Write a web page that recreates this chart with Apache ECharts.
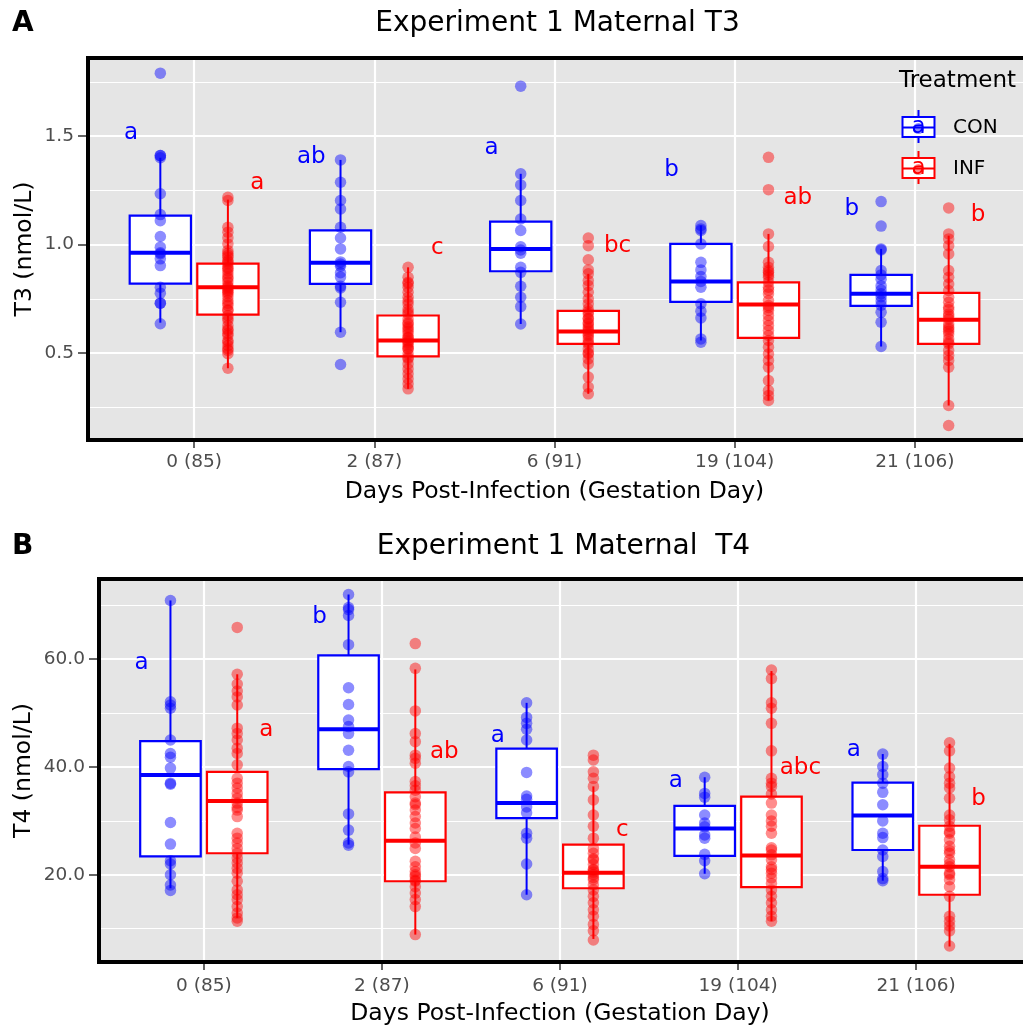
<!DOCTYPE html>
<html>
<head>
<meta charset="utf-8">
<script src="https://cdn.jsdelivr.net/npm/echarts@6/dist/echarts.min.js"></script>
<style>
html,body{margin:0;padding:0;background:#fff;}
#chart{width:1023px;height:1030px;}
</style>
</head>
<body>
<div id="chart"></div>
<script>
// ---------- data ----------
const categories = ['0 (85)', '2 (87)', '6 (91)', '19 (104)', '21 (106)'];
const groups = ['CON', 'INF'];

const t3Ticks = [0.5, 1.0, 1.5];
const t3MinorTicks = [0.25, 0.75, 1.25, 1.75];
const t4Ticks = [20, 40, 60];
const t4MinorTicks = [10, 30, 50, 70];

// box stats: [lower whisker, Q1, median, Q3, upper whisker]
const t3BoxCON = [
  [0.64, 0.82, 0.962, 1.133, 1.40],
  [0.596, 0.819, 0.916, 1.065, 1.39],
  [0.634, 0.877, 0.98, 1.106, 1.326],
  [0.558, 0.736, 0.83, 1.003, 1.088],
  [0.53, 0.717, 0.773, 0.86, 0.98]
];
const t3BoxINF = [
  [0.43, 0.677, 0.803, 0.912, 1.207],
  [0.335, 0.485, 0.558, 0.673, 0.895],
  [0.312, 0.542, 0.599, 0.694, 0.865],
  [0.281, 0.57, 0.724, 0.826, 1.049],
  [0.258, 0.542, 0.654, 0.777, 1.041]
];
const t4BoxCON = [
  [17.5, 23.4, 38.5, 44.8, 70.9],
  [25.6, 39.6, 47.0, 60.7, 72.0],
  [16.3, 30.5, 33.3, 43.4, 51.9],
  [20.2, 23.5, 28.6, 32.8, 38.1],
  [18.9, 24.6, 31.0, 37.1, 42.4]
];
const t4BoxINF = [
  [12.0, 24.0, 33.7, 39.1, 57.2],
  [8.9, 18.8, 26.3, 35.3, 58.1],
  [8.1, 17.5, 20.4, 25.6, 36.4],
  [11.4, 17.7, 23.6, 34.5, 57.8],
  [6.7, 16.3, 21.5, 29.1, 44.3]
];

// individual observations per category
const t3PointsCON = [
  [1.79, 1.41, 1.41, 1.40, 1.234, 1.138, 1.11, 1.037, 0.988, 0.962, 0.957, 0.934, 0.903, 0.803, 0.776, 0.73, 0.73, 0.635],
  [1.39, 1.287, 1.203, 1.164, 1.08, 1.03, 0.98, 0.92, 0.91, 0.90, 0.87, 0.85, 0.808, 0.80, 0.734, 0.596, 0.447],
  [1.73, 1.326, 1.275, 1.203, 1.118, 1.065, 0.99, 0.975, 0.96, 0.895, 0.872, 0.808, 0.757, 0.714, 0.634],
  [1.088, 1.072, 1.065, 1.003, 0.918, 0.883, 0.853, 0.83, 0.803, 0.727, 0.693, 0.662, 0.565, 0.55],
  [1.198, 1.085, 0.98, 0.975, 0.88, 0.86, 0.84, 0.81, 0.79, 0.773, 0.76, 0.74, 0.72, 0.688, 0.642, 0.53]
];
const t3PointsINF = [
  [1.218, 1.203, 1.08, 1.057, 1.031, 1.003, 0.972, 0.96, 0.95, 0.942, 0.926, 0.92, 0.911, 0.896, 0.89, 0.88, 0.865, 0.85, 0.842, 0.827, 0.81, 0.803, 0.795, 0.788, 0.78, 0.773, 0.76, 0.742, 0.73, 0.719, 0.70, 0.696, 0.673, 0.66, 0.65, 0.627, 0.61, 0.604, 0.59, 0.581, 0.558, 0.55, 0.535, 0.52, 0.512, 0.497, 0.43],
  [0.895, 0.849, 0.826, 0.82, 0.803, 0.78, 0.757, 0.74, 0.726, 0.703, 0.69, 0.68, 0.657, 0.64, 0.634, 0.62, 0.611, 0.60, 0.588, 0.573, 0.57, 0.558, 0.55, 0.542, 0.53, 0.52, 0.519, 0.496, 0.48, 0.473, 0.45, 0.427, 0.404, 0.381, 0.358, 0.335],
  [1.03, 0.995, 0.93, 0.883, 0.865, 0.834, 0.811, 0.78, 0.75, 0.727, 0.703, 0.69, 0.68, 0.66, 0.657, 0.64, 0.634, 0.62, 0.611, 0.60, 0.588, 0.58, 0.565, 0.55, 0.542, 0.519, 0.50, 0.496, 0.473, 0.45, 0.389, 0.343, 0.312],
  [1.402, 1.253, 1.049, 0.991, 0.918, 0.895, 0.88, 0.872, 0.86, 0.849, 0.826, 0.803, 0.79, 0.773, 0.742, 0.719, 0.71, 0.696, 0.673, 0.65, 0.627, 0.604, 0.581, 0.558, 0.527, 0.496, 0.466, 0.435, 0.373, 0.327, 0.304, 0.281],
  [1.169, 1.049, 1.026, 0.995, 0.957, 0.88, 0.849, 0.818, 0.788, 0.757, 0.734, 0.711, 0.70, 0.68, 0.67, 0.657, 0.634, 0.62, 0.611, 0.60, 0.588, 0.565, 0.55, 0.542, 0.512, 0.489, 0.466, 0.435, 0.258, 0.166]
];
const t4PointsCON = [
  [70.9, 52.1, 51.5, 50.9, 45.0, 42.5, 41.8, 39.8, 37.0, 36.8, 29.7, 25.7, 22.6, 22.0, 20.0, 18.1, 17.1],
  [72.0, 69.6, 69.2, 68.1, 62.7, 54.7, 51.6, 48.7, 47.5, 46.2, 43.1, 40.1, 39.1, 31.3, 28.3, 25.9, 25.5],
  [51.9, 49.2, 48.1, 47.0, 45.0, 39.0, 34.6, 34.0, 32.6, 31.5, 27.7, 26.8, 22.0, 16.3],
  [38.1, 35.1, 34.4, 31.1, 29.6, 28.9, 27.4, 26.8, 23.8, 22.6, 20.2],
  [42.4, 40.1, 38.6, 37.0, 35.3, 33.0, 30.0, 27.7, 26.9, 24.6, 23.4, 20.6, 19.3, 18.9]
];
const t4PointsINF = [
  [65.9, 57.2, 55.4, 54.1, 53.0, 51.5, 47.2, 46.2, 45.0, 43.5, 42.5, 40.4, 37.9, 37.0, 36.1, 35.1, 34.2, 33.3, 32.5, 32.0, 30.8, 27.7, 26.8, 25.9, 24.9, 24.0, 23.1, 22.2, 21.2, 20.3, 18.8, 17.2, 16.3, 15.4, 14.1, 12.9, 12.0, 11.4],
  [62.9, 58.3, 50.4, 46.2, 44.7, 42.2, 41.6, 40.7, 37.3, 36.5, 35.7, 34.5, 33.3, 33.0, 32.0, 30.8, 29.6, 28.6, 27.0, 25.9, 24.9, 22.5, 21.5, 20.6, 20.0, 19.7, 19.0, 18.8, 17.8, 16.6, 15.4, 14.1, 8.9],
  [42.2, 41.3, 39.1, 37.9, 36.4, 33.9, 31.1, 29.0, 26.8, 24.9, 24.0, 23.0, 22.8, 21.9, 21.0, 20.9, 20.5, 20.0, 19.5, 19.1, 18.1, 17.2, 16.0, 14.8, 13.5, 12.3, 10.8, 9.6, 7.9],
  [58.0, 56.4, 51.9, 50.9, 48.1, 43.0, 37.9, 37.0, 36.4, 35.0, 33.3, 31.1, 30.0, 29.0, 27.7, 25.0, 24.6, 23.7, 22.8, 21.5, 21.0, 20.3, 19.4, 18.4, 17.2, 16.0, 14.8, 13.5, 12.3, 11.4],
  [44.5, 43.0, 39.8, 38.2, 37.0, 36.1, 34.2, 31.1, 30.2, 29.0, 28.0, 27.7, 26.5, 25.3, 24.5, 24.0, 22.8, 22.0, 21.5, 20.3, 20.0, 19.1, 17.8, 16.0, 12.3, 11.4, 10.5, 9.6, 6.8]
];

// significance letters and their heights
const t3LettersCON = ['a', 'ab', 'a', 'b', 'b'];
const t3LettersINF = ['a', 'c', 'bc', 'ab', 'b'];
const t3LetterYCON = [1.514, 1.403, 1.445, 1.343, 1.164];
const t3LetterYINF = [1.283, 0.984, 0.993, 1.214, 1.136];
const t4LettersCON = ['a', 'b', 'a', 'a', 'a'];
const t4LettersINF = ['a', 'ab', 'c', 'abc', 'b'];
const t4LetterYCON = [59.3, 67.8, 45.8, 37.4, 43.2];
const t4LetterYINF = [46.9, 42.8, 28.3, 39.8, 34.1];

// ---------- layout / style ----------
const FONT = '"DejaVu Sans", sans-serif';
const BLUE = '#0000ff', RED = '#ff0000';
const DODGE = 0.1875, BOX_W = 0.34, LETTER_OFF = 0.35;
const catPos = categories.map((c, i) => i + 1);

function boxSeries(idx, stats, sign, color, name) {
  return {
    type: 'custom', name: name, xAxisIndex: idx, yAxisIndex: idx, z: 2, silent: true,
    itemStyle: { color: color },
    encode: { x: 0, y: [1, 2, 3, 4, 5] },
    data: stats.map((s, i) => [catPos[i] + sign * DODGE].concat(s)),
    renderItem: function (params, api) {
      const x = api.value(0);
      const lo = api.coord([x, api.value(1)]);
      const q1 = api.coord([x, api.value(2)]);
      const md = api.coord([x, api.value(3)]);
      const q3 = api.coord([x, api.value(4)]);
      const hi = api.coord([x, api.value(5)]);
      const hw = api.size([BOX_W, 0])[0] / 2;
      const cx = lo[0];
      return {
        type: 'group', children: [
          { type: 'line', shape: { x1: cx, y1: hi[1], x2: cx, y2: q3[1] }, style: { stroke: color, lineWidth: 2 } },
          { type: 'line', shape: { x1: cx, y1: q1[1], x2: cx, y2: lo[1] }, style: { stroke: color, lineWidth: 2 } },
          { type: 'rect', shape: { x: cx - hw, y: q3[1], width: 2 * hw, height: q1[1] - q3[1] }, style: { fill: '#ffffff', stroke: color, lineWidth: 2.2 } },
          { type: 'line', shape: { x1: cx - hw, y1: md[1], x2: cx + hw, y2: md[1] }, style: { stroke: color, lineWidth: 4 } }
        ]
      };
    }
  };
}

function pointSeries(idx, pts, sign, color, name) {
  const data = [];
  pts.forEach((arr, i) => arr.forEach(v => data.push([catPos[i] + sign * DODGE, v])));
  return {
    type: 'scatter', name: name, xAxisIndex: idx, yAxisIndex: idx, z: 3, silent: true,
    symbol: 'circle', symbolSize: 11.5,
    itemStyle: { color: color, opacity: 0.45, borderWidth: 0 },
    data: data
  };
}

function letterSeries(idx, letters, ys, sign, color) {
  return {
    type: 'custom', xAxisIndex: idx, yAxisIndex: idx, z: 4, silent: true,
    data: ys.map((v, i) => [catPos[i] + sign * LETTER_OFF, v]),
    renderItem: function (params, api) {
      const p = api.coord([api.value(0), api.value(1)]);
      return {
        type: 'text', x: p[0], y: p[1],
        style: { text: letters[params.dataIndex], fill: color, font: '23px ' + FONT,
                 align: 'center', verticalAlign: 'middle', textAlign: 'center', textVerticalAlign: 'middle' }
      };
    }
  };
}

function gridLineSeries(idx, major, minor) {
  const minorStyle = { color: '#ffffff', width: 1.1, type: 'solid' };
  const majorStyle = { color: '#ffffff', width: 2.2, type: 'solid' };
  return {
    type: 'scatter', xAxisIndex: idx, yAxisIndex: idx, z: 1, silent: true, data: [],
    markLine: {
      silent: true, z: 1, symbol: ['none', 'none'], animation: false,
      label: { show: false }, emphasis: { disabled: true },
      data: minor.map(v => ({ yAxis: v, lineStyle: minorStyle }))
        .concat(major.map(v => ({ yAxis: v, lineStyle: majorStyle })))
        .concat(catPos.map(v => ({ xAxis: v, lineStyle: majorStyle })))
    }
  };
}

function xAxisCfg(idx, margin) {
  return {
    gridIndex: idx, type: 'value', min: 0.4, max: 5.6,
    axisLine: { show: false, onZero: false },
    splitLine: { show: false },
    axisTick: { show: true, customValues: catPos, length: 6, lineStyle: { color: '#333333', width: 1.5 } },
    axisLabel: { customValues: catPos, formatter: v => categories[Math.round(v) - 1], color: '#4d4d4d',
                 fontSize: 18.5, fontFamily: FONT, margin: margin },
    name: 'Days Post-Infection (Gestation Day)', nameLocation: 'middle', nameGap: 38, nameMoveOverlap: false,
    nameTextStyle: { color: '#000000', fontSize: 23.5, fontFamily: FONT }
  };
}

function yAxisCfg(idx, min, max, ticks, name, nameGap) {
  return {
    gridIndex: idx, type: 'value', min: min, max: max,
    axisLine: { show: false, onZero: false },
    splitLine: { show: false },
    axisTick: { show: true, customValues: ticks, length: 8, lineStyle: { color: '#333333', width: 1.5 } },
    axisLabel: { customValues: ticks, formatter: v => Number(v).toFixed(1), color: '#4d4d4d',
                 fontSize: 18.5, fontFamily: FONT, margin: 12 },
    name: name, nameLocation: 'middle', nameGap: nameGap, nameRotate: 90, nameMoveOverlap: false,
    nameTextStyle: { color: '#000000', fontSize: 23.5, fontFamily: FONT }
  };
}

function legendKey(cy, color, label) {
  return [
    { type: 'line', shape: { x1: 918.5, y1: cy - 17.5, x2: 918.5, y2: cy + 15.5 }, style: { stroke: color, lineWidth: 2 }, z: 101 },
    { type: 'rect', shape: { x: 902.5, y: cy - 10.5, width: 32, height: 20 }, style: { fill: '#ffffff', stroke: color, lineWidth: 2 }, z: 101 },
    { type: 'line', shape: { x1: 902.5, y1: cy, x2: 934.5, y2: cy }, style: { stroke: color, lineWidth: 2 }, z: 101 },
    { type: 'text', x: 918.5, y: cy, style: { text: 'a', fill: color, font: '23px ' + FONT, align: 'center', verticalAlign: 'middle', textAlign: 'center', textVerticalAlign: 'middle' }, z: 102 },
    { type: 'circle', shape: { cx: 918.5, cy: cy + 1, r: 5.6 }, style: { fill: color, opacity: 0.45 }, z: 103 },
    { type: 'text', x: 953, y: cy, style: { text: label, fill: '#000000', font: '20px ' + FONT, align: 'left', verticalAlign: 'middle', textAlign: 'left', textVerticalAlign: 'middle' }, z: 102 }
  ];
}

const option = {
  animation: false,
  backgroundColor: '#ffffff',
  title: [
    { text: 'A', left: 12, top: 10, padding: 0, textStyle: { fontSize: 28, fontWeight: 'bold', fontFamily: FONT, color: '#000' } },
    { text: 'Experiment 1 Maternal T3', left: 557.5, textAlign: 'center', top: 10, padding: 0,
      textStyle: { fontSize: 28, fontWeight: 'normal', fontFamily: FONT, color: '#000' } },
    { text: 'B', left: 12, top: 533, padding: 0, textStyle: { fontSize: 28, fontWeight: 'bold', fontFamily: FONT, color: '#000' } },
    { text: 'Experiment 1 Maternal  T4', left: 563.5, textAlign: 'center', top: 533, padding: 0,
      textStyle: { fontSize: 28, fontWeight: 'normal', fontFamily: FONT, color: '#000' } }
  ],
  grid: [
    { left: 86, top: 56, width: 943, height: 386, show: true, backgroundColor: '#e5e5e5', borderWidth: 0 },
    { left: 97, top: 577, width: 933, height: 387, show: true, backgroundColor: '#e5e5e5', borderWidth: 0 }
  ],
  xAxis: [xAxisCfg(0, 10.5), xAxisCfg(1, 12.5)],
  yAxis: [
    yAxisCfg(0, 0.09, 1.869, t3Ticks, 'T3 (nmol/L)', 49.5),
    yAxisCfg(1, 3.45, 75.25, t4Ticks, 'T4 (nmol/L)', 61)
  ],
  series: [
    gridLineSeries(0, t3Ticks, t3MinorTicks),
    gridLineSeries(1, t4Ticks, t4MinorTicks),
    boxSeries(0, t3BoxCON, -1, BLUE, groups[0]),
    boxSeries(0, t3BoxINF, 1, RED, groups[1]),
    boxSeries(1, t4BoxCON, -1, BLUE, groups[0]),
    boxSeries(1, t4BoxINF, 1, RED, groups[1]),
    pointSeries(0, t3PointsCON, -1, BLUE, groups[0]),
    pointSeries(0, t3PointsINF, 1, RED, groups[1]),
    pointSeries(1, t4PointsCON, -1, BLUE, groups[0]),
    pointSeries(1, t4PointsINF, 1, RED, groups[1]),
    letterSeries(0, t3LettersCON, t3LetterYCON, -1, BLUE),
    letterSeries(0, t3LettersINF, t3LetterYINF, 1, RED),
    letterSeries(1, t4LettersCON, t4LetterYCON, -1, BLUE),
    letterSeries(1, t4LettersINF, t4LetterYINF, 1, RED)
  ],
  graphic: [
    { type: 'rect', shape: { x: 88, y: 58, width: 943, height: 382 }, style: { fill: 'none', stroke: '#000000', lineWidth: 4 }, z: 100, silent: true },
    { type: 'rect', shape: { x: 99, y: 579, width: 933, height: 383 }, style: { fill: 'none', stroke: '#000000', lineWidth: 4 }, z: 100, silent: true },
    { type: 'text', x: 899, y: 81, z: 102, style: { text: 'Treatment', fill: '#000000', font: '23px ' + FONT, align: 'left', verticalAlign: 'middle', textAlign: 'left', textVerticalAlign: 'middle' } }
  ].concat(legendKey(127.5, BLUE, groups[0])).concat(legendKey(168.5, RED, groups[1]))
};

const chart = echarts.init(document.getElementById('chart'), null, { renderer: 'canvas' });
chart.setOption(option);
</script>
</body>
</html>
